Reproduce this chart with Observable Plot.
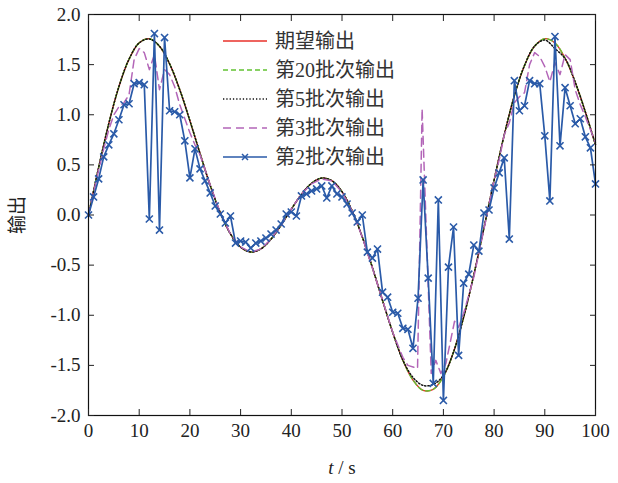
<!DOCTYPE html>
<html><head><meta charset="utf-8">
<script src="https://cdn.jsdelivr.net/npm/d3@7"></script>
<script src="https://cdn.jsdelivr.net/npm/@observablehq/plot@0.6"></script>
<style>
html,body{margin:0;padding:0;background:#fff;}
#chart{width:618px;height:483px;}
</style></head><body><div id="chart"></div>
<script>
// ---- data ----
const xTicks = [0,10,20,30,40,50,60,70,80,90,100];
const yTicks = [-2,-1.5,-1,-0.5,0,0.5,1,1.5,2];
const seriesNames = ["期望输出","第20批次输出","第5批次输出","第3批次输出","第2批次输出"];

const tSmooth = [0,2,4,6,8,10,12,14,16,18,20,22,24,26,28,30,32,34,36,38,40,42,44,46,48,50,52,54,56,58,60,62,64,66,68,70,72,74,76,78,80,82,84,86,88,90,92,94,96,98,100];
const desired = [0,0.474,0.912,1.281,1.555,1.717,1.759,1.684,1.507,1.250,0.941,0.613,0.297,0.022,-0.189,-0.321,-0.369,-0.338,-0.241,-0.100,0.058,0.206,0.317,0.368,0.342,0.233,0.042,-0.219,-0.525,-0.853,-1.170,-1.448,-1.647,-1.749,-1.739,-1.612,-1.366,-1.018,-0.597,-0.130,0.348,0.799,1.190,1.492,1.685,1.759,1.716,1.564,1.325,1.028,0.701];
const batch20 = [0,0.474,0.912,1.281,1.555,1.717,1.759,1.684,1.507,1.250,0.941,0.613,0.297,0.022,-0.189,-0.321,-0.369,-0.338,-0.241,-0.100,0.058,0.206,0.317,0.368,0.342,0.233,0.042,-0.219,-0.525,-0.853,-1.170,-1.448,-1.647,-1.749,-1.739,-1.612,-1.366,-1.018,-0.597,-0.130,0.348,0.799,1.190,1.492,1.685,1.759,1.716,1.564,1.325,1.028,0.701];
const batch5 = [0,0.474,0.912,1.281,1.555,1.717,1.755,1.684,1.507,1.250,0.941,0.613,0.297,0.022,-0.189,-0.321,-0.369,-0.338,-0.241,-0.100,0.058,0.206,0.317,0.368,0.342,0.233,0.042,-0.219,-0.525,-0.853,-1.170,-1.448,-1.620,-1.700,-1.690,-1.600,-1.366,-1.018,-0.597,-0.130,0.348,0.799,1.190,1.492,1.685,1.745,1.660,1.560,1.325,1.028,0.701];

const t3 = [0,2,3,4,5,6,7,8,9,10,11,12,13,14,15,16,17,18,19,20,21,22,24,26,28,30,32,34,36,38,40,42,44,46,48,50,52,54,56,58,60,62,63,64.9,65.8,67.6,68.5,69.5,70.5,72.2,73,74,75,76,78,80,81,82,83,84,85,86,87,88,89,90,91,92,93,94,95,96,97,98,99,100];
const batch3 = [0,0.45,0.66,0.85,1.0,1.08,1.12,1.2,1.55,1.66,1.62,1.45,1.60,1.25,1.45,1.40,1.28,1.10,0.96,0.82,0.70,0.60,0.30,0.02,-0.19,-0.32,-0.37,-0.34,-0.24,-0.10,0.06,0.21,0.31,0.36,0.34,0.23,0.04,-0.22,-0.53,-0.85,-1.17,-1.42,-1.50,-1.53,1.06,-1.58,-1.45,-1.58,-1.48,-1.06,-1.12,-0.98,-0.80,-0.62,-0.14,0.35,0.55,0.80,0.92,1.12,1.18,1.22,1.50,1.62,1.58,1.48,1.33,1.52,1.40,1.60,1.55,1.25,1.10,0.98,0.85,0.72];

const t2 = [0,1,2,3,4,5,6,7,8,9,10,11,12,13,14,15,16,17,18,19,20,21,22,23,24,25,26,27,28,29,30,31,32,33,34,35,36,37,38,39,40,41,42,43,44,45,46,47,48,49,50,51,52,53,54,55,56,57,58,59,60,61,62,63,64,65,66,67,68,69,70,71,72,73,74,75,76,77,78,79,80,81,82,83,84,85,86,87,88,89,90,91,92,93,94,95,96,97,98,99,100];
const batch2 = [0.00,0.18,0.36,0.58,0.70,0.81,0.95,1.10,1.11,1.31,1.32,1.30,-0.04,1.81,-0.15,1.77,1.04,1.03,1.00,0.74,0.37,0.66,0.46,0.34,0.22,0.09,0.01,-0.08,-0.01,-0.28,-0.26,-0.27,-0.33,-0.28,-0.26,-0.23,-0.19,-0.15,-0.09,0.01,0.03,-0.01,0.19,0.21,0.24,0.26,0.29,0.17,0.29,0.21,0.18,0.11,0.02,-0.07,0.00,-0.37,-0.43,-0.34,-0.77,-0.82,-0.97,-0.98,-1.13,-1.14,-1.33,-0.83,0.35,-0.63,-1.68,0.15,-1.85,-0.52,-0.12,-1.40,-0.68,-0.59,-0.30,-0.36,0.02,0.05,0.27,0.42,0.57,-0.24,1.34,1.04,1.09,1.34,1.31,1.31,0.79,0.14,1.78,0.69,1.27,1.09,0.91,0.96,0.78,0.67,0.31];

// ---- styles ----
const FONT = '"Liberation Serif","Times New Roman","Noto Sans CJK SC",serif';
const C = {red:"#e8302a", green:"#62c232", black:"#111111", purple:"#b366b8", blue:"#2a5aa8"};
const styles = [
  {stroke:C.red, strokeWidth:1.4},
  {stroke:C.green, strokeWidth:1.4, strokeDasharray:"5,3"},
  {stroke:C.black, strokeWidth:1.5, strokeDasharray:"1.3,2"},
  {stroke:C.purple, strokeWidth:1.5, strokeDasharray:"8,5"},
  {stroke:C.blue, strokeWidth:1.7}
];

const rows = (ts, vs) => ts.map((t, i) => ({t, v: vs[i]}));

const plot = Plot.plot({
  width: 618, height: 483,
  marginLeft: 88, marginRight: 23, marginTop: 14, marginBottom: 68,
  style: {fontFamily: FONT, fontSize: "19px", color: "#222", background: "white"},
  x: {domain: [0, 100]},
  y: {domain: [-2, 2]},
  marks: [
    Plot.line(rows(tSmooth, desired), {x:"t", y:"v", curve:"catmull-rom", ...styles[0]}),
    Plot.line(rows(tSmooth, batch20), {x:"t", y:"v", curve:"catmull-rom", ...styles[1]}),
    Plot.line(rows(tSmooth, batch5), {x:"t", y:"v", curve:"catmull-rom", ...styles[2]}),
    Plot.line(rows(t3, batch3), {x:"t", y:"v", ...styles[3]}),
    Plot.line(rows(t2, batch2), {x:"t", y:"v", ...styles[4]}),
    Plot.dot(rows(t2, batch2), {x:"t", y:"v", symbol:"times", r:3.3, stroke:C.blue, strokeWidth:1.6}),
    Plot.frame({stroke:"#111", strokeWidth:1.2}),
    Plot.axisX({ticks:xTicks, tickSize:-6, tickPadding:14, tickFormat:d => String(d), label:"t / s", labelAnchor:"center", labelArrow:"none", labelOffset:58}),
    Plot.axisX({anchor:"top", ticks:xTicks, tickSize:-6, tickFormat:() => "", label:null}),
    Plot.axisY({ticks:yTicks, tickSize:-6, tickPadding:14, tickFormat:d => d.toFixed(1), label:"输出", labelAnchor:"center", labelArrow:"none", labelOffset:78}),
    Plot.axisY({anchor:"right", ticks:yTicks, tickSize:-6, tickFormat:() => "", label:null})
  ]
});
document.getElementById("chart").appendChild(plot);

// italic t in x label
const xl = plot.querySelector('g[aria-label="x-axis label"] text');
if (xl) {
  xl.textContent = "";
  const ts = document.createElementNS("http://www.w3.org/2000/svg", "tspan");
  ts.setAttribute("font-style", "italic");
  ts.textContent = "t";
  xl.appendChild(ts);
  xl.appendChild(document.createTextNode(" / s"));
}

// legend
const svg = d3.select(plot);
const lg = svg.append("g").attr("font-family", FONT).attr("font-size", 20)
  .attr("fill", "#333").attr("text-anchor", "start");
seriesNames.forEach((name, i) => {
  const y = 41 + i * 29;
  const s = styles[i];
  lg.append("line").attr("x1", 223).attr("x2", 267).attr("y1", y).attr("y2", y)
    .attr("stroke", s.stroke).attr("stroke-width", s.strokeWidth)
    .attr("stroke-dasharray", s.strokeDasharray || null);
  if (i === 4) {
    lg.append("path").attr("d", "M-3,-3L3,3M-3,3L3,-3").attr("transform", `translate(245,${y})`)
      .attr("stroke", C.blue).attr("stroke-width", 1.5).attr("fill", "none");
  }
  lg.append("text").attr("x", 275).attr("y", y).attr("dy", "0.35em")
    .attr("text-anchor", "start").text(name);
});
</script>
</body></html>
